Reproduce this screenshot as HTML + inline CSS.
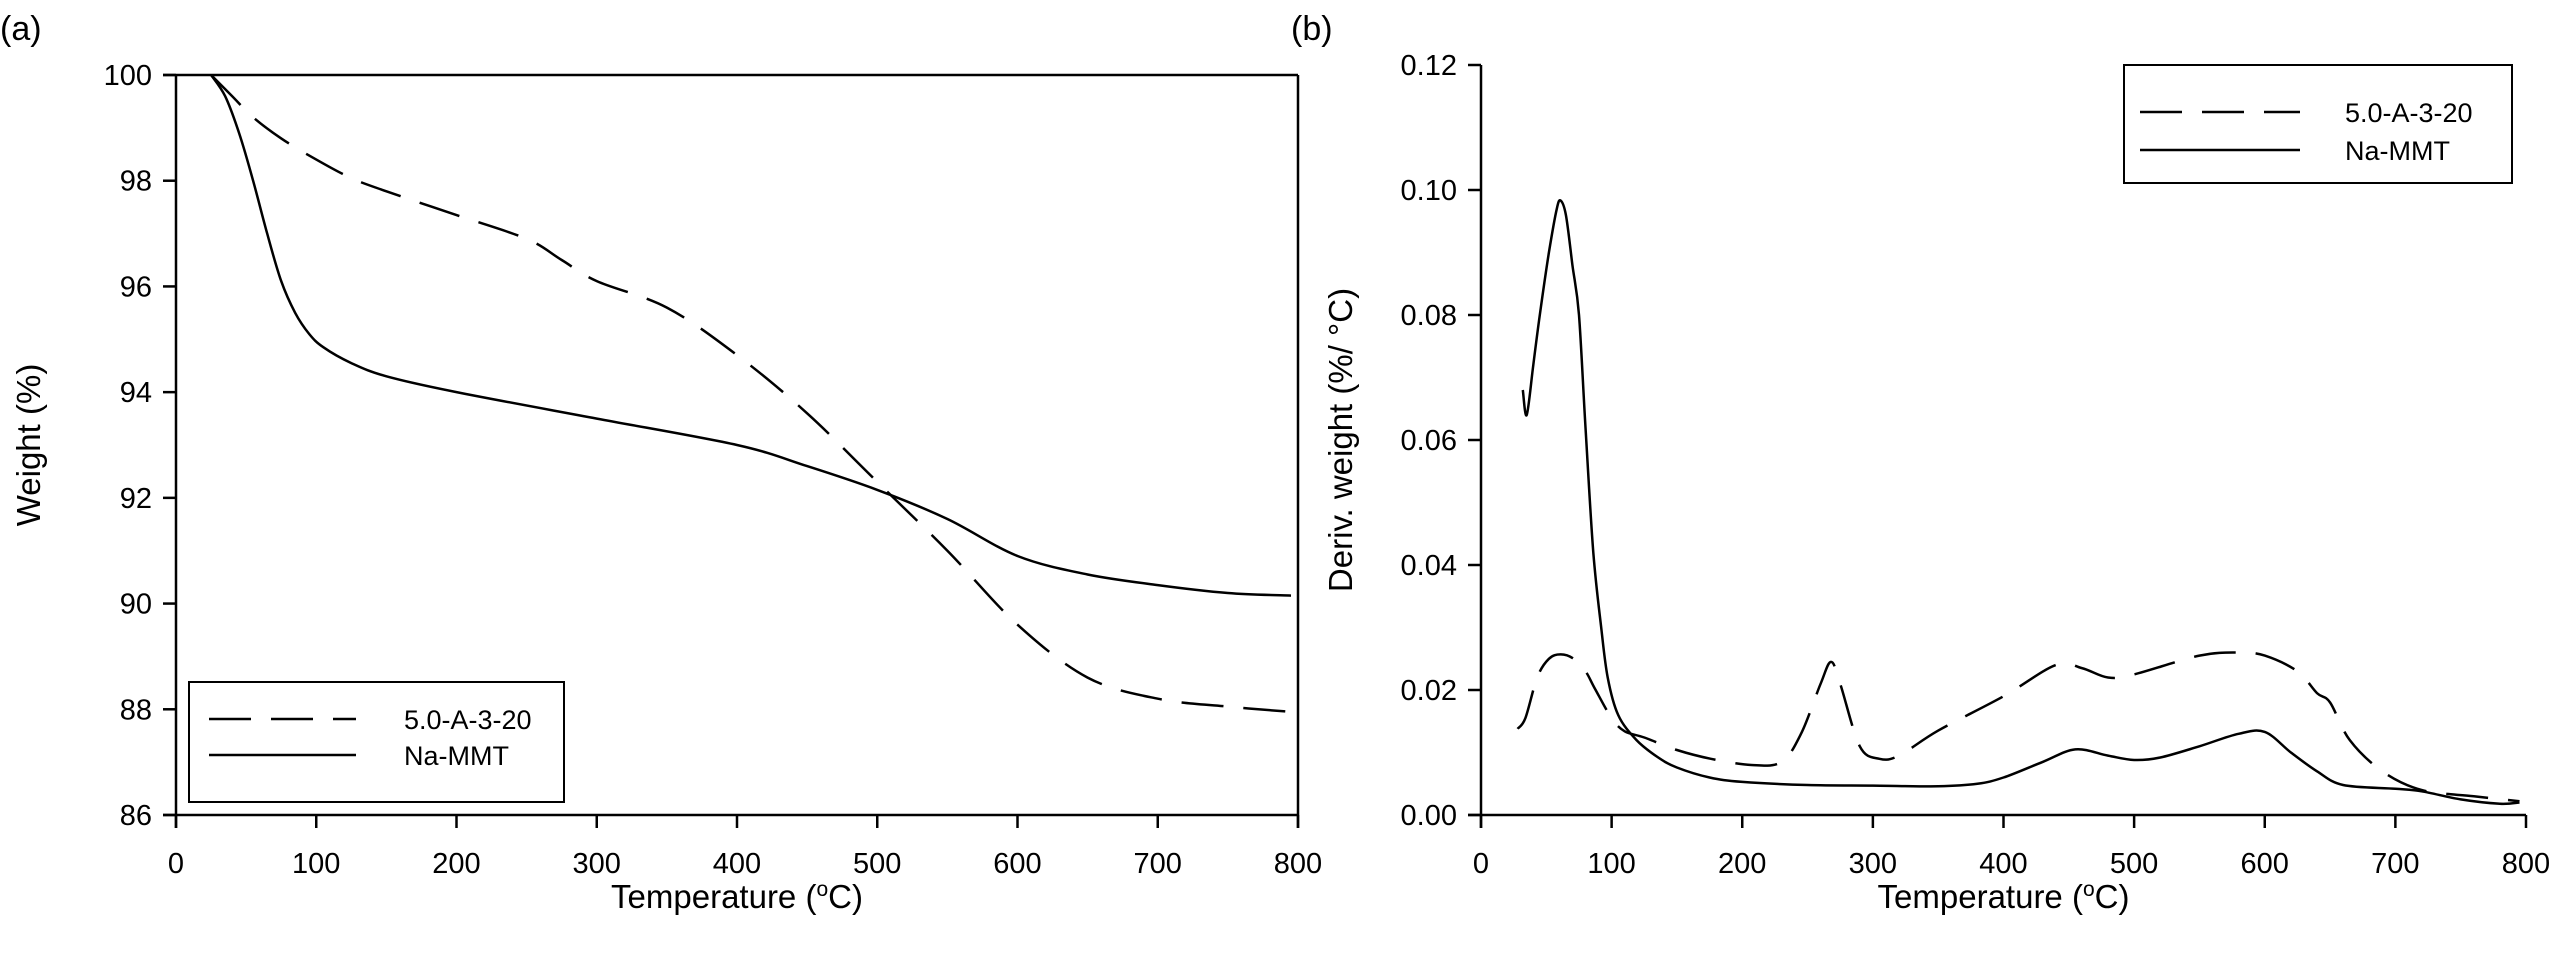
<!DOCTYPE html>
<html><head><meta charset="utf-8"><style>
html,body{margin:0;padding:0;background:#fff;}
svg{display:block;font-family:"Liberation Sans",Arial,sans-serif;}
</style></head><body>
<svg id="fig" width="2558" height="960" viewBox="0 0 2558 960" xmlns="http://www.w3.org/2000/svg">
<text x="0" y="40" font-size="34">(a)</text>
<text x="1291" y="40" font-size="34">(b)</text>
<g id="pa"></g>
<g id="pb"></g>
</svg>
<script>
const NS="http://www.w3.org/2000/svg";
// Panel (a) data
const xTicks=[0,100,200,300,400,500,600,700,800];
const aYTicks=[86,88,90,92,94,96,98,100];
const aDashT=[25,40,55,75,100,125,150,200,250,275,300,350,400,450,500,550,600,650,700,750,795];
const aDashW=[100,99.6,99.2,98.8,98.4,98.05,97.8,97.35,96.9,96.5,96.1,95.6,94.7,93.6,92.3,91.0,89.6,88.6,88.2,88.05,87.95];
const aSolidT=[25,35,45,55,65,75,85,95,105,125,150,200,300,400,450,500,550,600,650,700,750,795];
const aSolidW=[100,99.6,98.9,98.0,97.0,96.1,95.5,95.1,94.85,94.55,94.3,94.0,93.5,93.0,92.6,92.15,91.6,90.9,90.55,90.35,90.2,90.15];
// Panel (b) data
const bYTicks=["0.00","0.02","0.04","0.06","0.08","0.10","0.12"];
const bDashT=[28,34,43,52,61,71,80,87,100,110,125,150,176,207,230,245,260,268,275,290,305,320,350,400,440,460,480,500,550,580,600,625,640,650,665,690,720,760,795];
const bDashD=[0.0138,0.0155,0.022,0.025,0.0257,0.025,0.023,0.0203,0.0155,0.0134,0.0124,0.0104,0.009,0.008,0.0085,0.013,0.021,0.0245,0.021,0.011,0.009,0.0095,0.0135,0.019,0.024,0.0235,0.022,0.0225,0.0255,0.026,0.0255,0.023,0.0195,0.018,0.012,0.007,0.004,0.003,0.0022];
const bSolidT=[32,35,40,45,52,58,61,65,70,75,80,86,92,97,105,119,135,150,175,200,250,300,350,380,400,430,455,480,500,520,550,580,600,620,640,660,700,720,750,780,795];
const bSolidD=[0.068,0.064,0.072,0.08,0.09,0.097,0.0983,0.096,0.088,0.08,0.062,0.042,0.03,0.022,0.016,0.012,0.0093,0.0076,0.006,0.0053,0.0048,0.0047,0.0046,0.005,0.006,0.0085,0.0105,0.0095,0.0088,0.0092,0.011,0.013,0.0133,0.01,0.007,0.0048,0.0042,0.0038,0.0025,0.0018,0.002];

function mk(parent,tag,attrs,name,text){const e=document.createElementNS(NS,tag);for(const k in attrs)e.setAttribute(k,attrs[k]);


if(text!==undefined)e.textContent=text;parent.appendChild(e);return e;}
function smooth(xs,ys,sx,sy){
  const p=xs.map((x,i)=>[sx(x),sy(ys[i])]);
  let d='M'+p[0][0].toFixed(1)+','+p[0][1].toFixed(1);
  for(let i=0;i<p.length-1;i++){
    const p0=p[Math.max(0,i-1)],p1=p[i],p2=p[i+1],p3=p[Math.min(p.length-1,i+2)];
    const c1=[p1[0]+(p2[0]-p0[0])/6,p1[1]+(p2[1]-p0[1])/6];
    const c2=[p2[0]-(p3[0]-p1[0])/6,p2[1]-(p3[1]-p1[1])/6];
    d+=' C'+c1[0].toFixed(1)+','+c1[1].toFixed(1)+' '+c2[0].toFixed(1)+','+c2[1].toFixed(1)+' '+p2[0].toFixed(1)+','+p2[1].toFixed(1);
  }
  return d;
}

function panel(g,o){
  const sx=v=>o.x0+(v-o.xmin)/(o.xmax-o.xmin)*(o.x1-o.x0);
  const sy=v=>o.y1-(v-o.ymin)/(o.ymax-o.ymin)*(o.y1-o.y0);
  const st={stroke:'#000','stroke-width':2.5,fill:'none'};
  mk(g,'line',Object.assign({x1:o.x0,y1:o.y0,x2:o.x0,y2:o.y1+13},st),'y-axis');
  mk(g,'line',Object.assign({x1:o.x0-13,y1:o.y1,x2:o.x1,y2:o.y1},st),'x-axis');
  if(o.box){mk(g,'line',Object.assign({x1:o.x0-13,y1:o.y0,x2:o.x1,y2:o.y0},st),'top-border');
    mk(g,'line',Object.assign({x1:o.x1,y1:o.y0,x2:o.x1,y2:o.y1+13},st),'right-border');}
  xTicks.forEach(t=>{mk(g,'line',Object.assign({x1:sx(t),y1:o.y1,x2:sx(t),y2:o.y1+13},st),'x-tick');
    mk(g,'text',{x:sx(t),y:o.y1+58,'font-size':29,'text-anchor':'middle'},'x-tick-label',String(t));});
  o.yt.forEach(t=>{const v=parseFloat(t);mk(g,'line',Object.assign({x1:o.x0-13,y1:sy(v),x2:o.x0,y2:sy(v)},st),'y-tick');
    mk(g,'text',{x:o.x0-24,y:sy(v)+10,'font-size':29,'text-anchor':'end'},'y-tick-label',String(t));});
  mk(g,'text',{x:(o.x0+o.x1)/2,y:908,'font-size':33,'text-anchor':'middle'},'x-axis-title','Temperature (');
  const xt=g.lastChild;const sup=document.createElementNS(NS,'tspan');sup.setAttribute('dy','-12');sup.setAttribute('font-size','21');sup.textContent='o';xt.appendChild(sup);
  const c=document.createElementNS(NS,'tspan');c.setAttribute('dy','12');c.textContent='C)';xt.appendChild(c);
  mk(g,'text',{x:0,y:0,'font-size':33,'text-anchor':'middle',transform:`translate(${o.yTitleX},${(o.y0+o.y1)/2}) rotate(-90)`},'y-axis-title',o.yTitle);
  mk(g,'path',Object.assign({d:smooth(o.dT,o.dV,sx,sy),'stroke-dasharray':'42,20'},st),'series-5.0-A-3-20');
  mk(g,'path',Object.assign({d:smooth(o.sT,o.sV,sx,sy)},st),'series-Na-MMT');
  const L=o.leg;
  mk(g,'rect',{x:L.x,y:L.y,width:L.w,height:L.h,fill:'#fff',stroke:'#000','stroke-width':2},'legend-box');
  mk(g,'line',Object.assign({x1:L.lx0,y1:L.r1,x2:L.lx1,y2:L.r1,'stroke-dasharray':'42,20'},st),'legend-swatch-dashed');
  mk(g,'text',{x:L.tx,y:L.r1+10,'font-size':27},'legend-entry-5.0-A-3-20','5.0-A-3-20');
  mk(g,'line',Object.assign({x1:L.lx0,y1:L.r2,x2:L.lx1,y2:L.r2},st),'legend-swatch-solid');
  mk(g,'text',{x:L.tx,y:L.r2+10,'font-size':27},'legend-entry-Na-MMT','Na-MMT');
}
panel(document.getElementById('pa'),{x0:176,x1:1298,y0:75,y1:815,xmin:0,xmax:800,ymin:86,ymax:100,yt:aYTicks,box:true,
  yTitle:'Weight (%)',yTitleX:40,dT:aDashT,dV:aDashW,sT:aSolidT,sV:aSolidW,
  leg:{x:189,y:682,w:375,h:120,lx0:209,lx1:356,tx:404,r1:719,r2:755}});
panel(document.getElementById('pb'),{x0:1481,x1:2526,y0:65,y1:815,xmin:0,xmax:800,ymin:0,ymax:0.12,yt:bYTicks,box:false,
  yTitle:'Deriv. weight (%/ °C)',yTitleX:1352,dT:bDashT,dV:bDashD,sT:bSolidT,sV:bSolidD,
  leg:{x:2124,y:65,w:388,h:118,lx0:2140,lx1:2300,tx:2345,r1:112,r2:150}});
</script>
</body></html>
